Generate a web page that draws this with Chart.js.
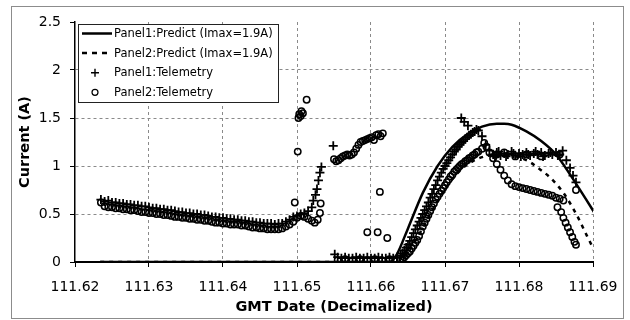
<!DOCTYPE html>
<html>
<head>
<meta charset="utf-8">
<script src="https://cdn.jsdelivr.net/npm/chart.js@4.4.1/dist/chart.umd.min.js"></script>
<style>
  html, body { margin: 0; padding: 0; background: #fff; }
  #wrap { width: 630px; height: 320px; }
</style>
</head>
<body>
<div id="wrap"><canvas id="chart" width="630" height="320"></canvas></div>
<script>
// axis ticks
const xTicks = [111.62, 111.63, 111.64, 111.65, 111.66, 111.67, 111.68, 111.69]
const yTicks = [0, 0.5, 1, 1.5, 2, 2.5]

const seriesNames = [
  'Panel1:Predict (Imax=1.9A)',
  'Panel2:Predict (Imax=1.9A)',
  'Panel1:Telemetry',
  'Panel2:Telemetry'
]

// predictions
const p1PredTime = [111.6234, 111.6626, 111.6630, 111.6635, 111.6650, 111.6670, 111.6690, 111.6710, 111.6730,
  111.6750, 111.6770, 111.6780, 111.6790, 111.6810, 111.6830, 111.6850, 111.6870, 111.6890, 111.6907]
const p1PredAmps = [0, 0, 0.03, 0.08, 0.35, 0.72, 1.00, 1.20, 1.33,
  1.41, 1.44, 1.44, 1.43, 1.36, 1.26, 1.12, 0.90, 0.66, 0.45]

const p2PredTime = [111.6234, 111.6636, 111.6645, 111.6660, 111.6680, 111.6700, 111.6720, 111.6740, 111.6760,
  111.6780, 111.6800, 111.6815, 111.6824, 111.6842, 111.6860, 111.6878, 111.6892, 111.6905]
const p2PredAmps = [0, 0, 0.06, 0.22, 0.50, 0.76, 0.95, 1.06, 1.11,
  1.12, 1.09, 1.04, 0.99, 0.88, 0.72, 0.49, 0.27, 0.07]

// telemetry, early part: both panels sampled at the same times
const bandTime = [111.6235, 111.6240, 111.6245, 111.6250, 111.6255, 111.6260, 111.6265, 111.6270, 111.6275, 111.6280,
  111.6285, 111.6290, 111.6295, 111.6300, 111.6305, 111.6310, 111.6315, 111.6320, 111.6325, 111.6330,
  111.6335, 111.6340, 111.6345, 111.6350, 111.6355, 111.6360, 111.6365, 111.6370, 111.6375, 111.6380,
  111.6385, 111.6390, 111.6395, 111.6400, 111.6405, 111.6410, 111.6415, 111.6420, 111.6425, 111.6430,
  111.6435, 111.6440, 111.6445, 111.6450, 111.6455, 111.6460, 111.6465, 111.6470, 111.6475, 111.6480,
  111.6485, 111.6490, 111.6495]
const p1Band = [0.65, 0.63, 0.64, 0.62, 0.62, 0.61, 0.61, 0.60, 0.60, 0.59,
  0.59, 0.58, 0.58, 0.57, 0.56, 0.56, 0.55, 0.55, 0.54, 0.54,
  0.53, 0.52, 0.52, 0.51, 0.51, 0.50, 0.50, 0.49, 0.49, 0.48,
  0.47, 0.47, 0.46, 0.46, 0.45, 0.45, 0.44, 0.44, 0.43, 0.43,
  0.42, 0.42, 0.41, 0.41, 0.40, 0.40, 0.40, 0.39, 0.40, 0.40,
  0.42, 0.44, 0.47]
const p2Band = [0.62, 0.58, 0.57, 0.57, 0.56, 0.56, 0.55, 0.55, 0.54, 0.54,
  0.53, 0.52, 0.52, 0.51, 0.51, 0.50, 0.50, 0.49, 0.49, 0.48,
  0.47, 0.47, 0.46, 0.46, 0.45, 0.45, 0.44, 0.44, 0.43, 0.43,
  0.42, 0.41, 0.41, 0.40, 0.40, 0.39, 0.39, 0.39, 0.38, 0.38,
  0.37, 0.36, 0.36, 0.35, 0.35, 0.34, 0.34, 0.34, 0.34, 0.35,
  0.37, 0.39, 0.42]

// telemetry, later part
const p1Time = [111.6500, 111.6505, 111.6510, 111.6515, 111.6520, 111.6522, 111.6525, 111.6527, 111.6529, 111.6531,
  111.6533, 111.6549,
  111.6551, 111.6555, 111.6560, 111.6565, 111.6570, 111.6575, 111.6580, 111.6585, 111.6590, 111.6595,
  111.6600, 111.6605, 111.6610, 111.6615, 111.6620, 111.6625, 111.6630, 111.6635,
  111.6640, 111.6645, 111.6650, 111.6655, 111.6660, 111.6665, 111.6670, 111.6675, 111.6680, 111.6685,
  111.6690, 111.6695, 111.6700, 111.6705, 111.6710, 111.6715, 111.6720, 111.6722, 111.6725, 111.6726,
  111.6730, 111.6731, 111.6735, 111.6740, 111.6745, 111.6750, 111.6755, 111.6760, 111.6765, 111.6770,
  111.6775, 111.6780, 111.6785, 111.6790, 111.6795, 111.6800, 111.6805, 111.6810, 111.6815, 111.6820,
  111.6825, 111.6830, 111.6835, 111.6840, 111.6845, 111.6850, 111.6855, 111.6859, 111.6864, 111.6869,
  111.6873, 111.6877,
  111.66425, 111.66475, 111.66525, 111.66575, 111.66625, 111.66675, 111.66725, 111.66775, 111.66825, 111.66875,
  111.66925, 111.66975, 111.67025, 111.67075, 111.67125, 111.67175, 111.67225, 111.67275, 111.67325, 111.67375,
  111.67425,
  111.67675, 111.67725, 111.67825, 111.67925, 111.68025, 111.68125, 111.68225, 111.68325, 111.68425, 111.68525]
const p1Amps = [0.48, 0.50, 0.51, 0.53, 0.57, 0.64, 0.70, 0.76, 0.85, 0.93,
  0.99, 1.21,
  0.08, 0.05, 0.04, 0.05, 0.04, 0.04, 0.05, 0.04, 0.04, 0.05,
  0.04, 0.04, 0.05, 0.04, 0.04, 0.05, 0.04, 0.05,
  0.07, 0.12, 0.18, 0.26, 0.34, 0.42, 0.50, 0.58, 0.67, 0.76,
  0.85, 0.93, 1.00, 1.06, 1.12, 1.17, 1.22, 1.50, 1.26, 1.46,
  1.30, 1.42, 1.33, 1.36, 1.37, 1.31, 1.22, 1.16, 1.12, 1.14,
  1.11, 1.13, 1.12, 1.15, 1.11, 1.13, 1.12, 1.14, 1.11, 1.13,
  1.12, 1.14, 1.11, 1.13, 1.12, 1.14, 1.12, 1.16, 1.06, 0.98,
  0.90, 0.83,
  0.09, 0.15, 0.22, 0.30, 0.38, 0.46, 0.54, 0.62, 0.71, 0.80,
  0.89, 0.97, 1.03, 1.09, 1.15, 1.20, 1.24, 1.28, 1.32, 1.35,
  1.38,
  1.10, 1.15, 1.10, 1.13, 1.10, 1.12, 1.15, 1.10, 1.14, 1.11]

const p2Time = [111.6497, 111.6500, 111.6501, 111.6502, 111.6503, 111.6505, 111.6506, 111.6508, 111.6513,
  111.6505, 111.6510, 111.6515, 111.6520, 111.6524, 111.6528, 111.6531, 111.6532,
  111.6550, 111.6553, 111.6556, 111.6559, 111.6562, 111.6565, 111.6568, 111.6571, 111.6574, 111.6577,
  111.6580, 111.6583, 111.6586, 111.6589, 111.6592, 111.6595, 111.6598, 111.6601, 111.6604, 111.6607,
  111.6610, 111.6613, 111.6616,
  111.6595, 111.6609, 111.6612, 111.6622,
  111.6555, 111.6565, 111.6575, 111.6585, 111.6595, 111.6605, 111.6615, 111.6625, 111.6635,
  111.6640, 111.6645, 111.6650, 111.6655, 111.6660, 111.6665, 111.6670, 111.6675, 111.6680, 111.6685,
  111.6690, 111.6695, 111.6700, 111.6705, 111.6710, 111.6715, 111.6720, 111.6725, 111.6730, 111.6735,
  111.6740, 111.6745, 111.6750, 111.6753, 111.6756, 111.6760, 111.6765, 111.6770, 111.6775, 111.6780,
  111.6785, 111.6790, 111.6795, 111.6800, 111.6805, 111.6810, 111.6815, 111.6820, 111.6825, 111.6830,
  111.6835, 111.6840, 111.6845, 111.6850, 111.6855, 111.6860,
  111.6852, 111.6857, 111.6860, 111.6863, 111.6866, 111.6869, 111.6872, 111.6875, 111.6877,
  111.6770, 111.6780, 111.6795, 111.6810, 111.6830, 111.6855, 111.6877,
  111.66425, 111.66475, 111.66525, 111.66575, 111.66625, 111.66675, 111.66725, 111.66775, 111.66825, 111.66875,
  111.66925, 111.66975, 111.67025, 111.67075, 111.67125, 111.67175, 111.67225, 111.67275, 111.67325, 111.67375,
  111.67425]
const p2Amps = [0.62, 0.46, 1.15, 1.50, 1.54, 1.52, 1.57, 1.55, 1.69,
  0.48, 0.47, 0.45, 0.43, 0.41, 0.44, 0.51, 0.61,
  1.07, 1.05, 1.06, 1.08, 1.10, 1.11, 1.12, 1.11, 1.12, 1.14,
  1.18, 1.22, 1.25, 1.26, 1.27, 1.28, 1.29, 1.30, 1.27, 1.32,
  1.33, 1.31, 1.34,
  0.31, 0.31, 0.73, 0.25,
  0.02, 0.03, 0.02, 0.03, 0.02, 0.03, 0.02, 0.03, 0.02,
  0.02, 0.05, 0.09, 0.14, 0.20, 0.27, 0.37, 0.45, 0.53, 0.61,
  0.68, 0.74, 0.80, 0.86, 0.91, 0.96, 1.00, 1.03, 1.06, 1.09,
  1.12, 1.15, 1.18, 1.24, 1.20, 1.14, 1.08, 1.02, 0.96, 0.90,
  0.85, 0.81, 0.79, 0.78, 0.77, 0.76, 0.75, 0.74, 0.73, 0.72,
  0.71, 0.70, 0.69, 0.67, 0.66, 0.64,
  0.57, 0.52, 0.46, 0.41, 0.36, 0.31, 0.26, 0.21, 0.18,
  1.12, 1.14, 1.10, 1.12, 1.10, 1.12, 0.75,
  0.03, 0.07, 0.11, 0.17, 0.23, 0.32, 0.41, 0.49, 0.57, 0.65,
  0.71, 0.77, 0.83, 0.89, 0.94, 0.98, 1.02, 1.05, 1.08, 1.11,
  1.14]

const toPoints = (xs, ys) => xs.map((x, i) => ({ x: x, y: ys[i] }))

// white page + grey outer frame like the pasted excel chart
const frame = {
  id: 'frame',
  beforeDraw(chart) {
    const ctx = chart.ctx
    ctx.save()
    ctx.fillStyle = '#fff'
    ctx.fillRect(0, 0, chart.width, chart.height)
    ctx.strokeStyle = '#8c8c8c'
    ctx.lineWidth = 1
    ctx.strokeRect(11.5, 6.5, 612, 312)
    ctx.restore()
  }
}

// legend box inside the plot, top left
const legendBox = {
  id: 'legendBox',
  afterDatasetsDraw(chart) {
    const ctx = chart.ctx
    const x0 = chart.chartArea.left + 3
    const y0 = chart.chartArea.top + 2
    ctx.save()
    ctx.fillStyle = '#fff'
    ctx.fillRect(x0, y0, 200, 78)
    ctx.strokeStyle = '#222'
    ctx.lineWidth = 1
    ctx.strokeRect(x0 + 0.5, y0 + 0.5, 200, 78)
    ctx.font = '11.5px "DejaVu Sans"'
    ctx.textBaseline = 'middle'
    chart.data.datasets.forEach((ds, i) => {
      const y = y0 + 9.5 + i * 19.6
      ctx.strokeStyle = '#000'
      ctx.fillStyle = '#000'
      if (ds.showLine) {
        ctx.lineWidth = 2.5
        ctx.setLineDash(ds.borderDash ? [5, 5] : [])
        ctx.beginPath()
        ctx.moveTo(x0 + 4, y)
        ctx.lineTo(x0 + 34, y)
        ctx.stroke()
        ctx.setLineDash([])
      } else if (ds.pointStyle === 'cross') {
        ctx.lineWidth = 1.4
        ctx.beginPath()
        ctx.moveTo(x0 + 17, y - 4); ctx.lineTo(x0 + 17, y + 4)
        ctx.moveTo(x0 + 13, y); ctx.lineTo(x0 + 21, y)
        ctx.stroke()
      } else {
        ctx.lineWidth = 1.2
        ctx.beginPath()
        ctx.arc(x0 + 17, y, 3, 0, Math.PI * 2)
        ctx.stroke()
      }
      ctx.fillText(ds.label, x0 + 36, y + 0.5)
    })
    ctx.restore()
  }
}

const gridColor = (skip) => (c) => (c.tick && skip.includes(c.tick.value)) ? 'rgba(0,0,0,0)' : '#8a8a8a'

new Chart(document.getElementById('chart'), {
  type: 'scatter',
  data: {
    datasets: [
      {
        label: seriesNames[0],
        data: toPoints(p1PredTime, p1PredAmps),
        showLine: true,
        borderColor: '#000',
        borderWidth: 2.5,
        pointRadius: 0,
        cubicInterpolationMode: 'monotone'
      },
      {
        label: seriesNames[1],
        data: toPoints(p2PredTime, p2PredAmps),
        showLine: true,
        borderColor: '#000',
        borderWidth: 2.5,
        borderDash: [4, 5],
        pointRadius: 0,
        cubicInterpolationMode: 'monotone'
      },
      {
        label: seriesNames[2],
        data: toPoints(bandTime, p1Band).concat(toPoints(p1Time, p1Amps)),
        pointStyle: 'cross',
        pointRadius: 4.5,
        pointBorderWidth: 1.8,
        borderColor: '#000',
        backgroundColor: '#000'
      },
      {
        label: seriesNames[3],
        data: toPoints(bandTime, p2Band).concat(toPoints(p2Time, p2Amps)),
        pointStyle: 'circle',
        pointRadius: 3.2,
        pointBorderWidth: 1.5,
        borderColor: '#000',
        backgroundColor: 'rgba(0,0,0,0)'
      }
    ]
  },
  options: {
    responsive: false,
    animation: false,
    devicePixelRatio: 1,
    layout: { padding: { left: 12, right: 37, top: 22, bottom: 4 } },
    plugins: { legend: { display: false }, tooltip: { enabled: false } },
    scales: {
      x: {
        type: 'linear',
        min: 111.62,
        max: 111.69,
        afterBuildTicks: (s) => { s.ticks = xTicks.map(v => ({ value: v })) },
        afterFit: (s) => { s.height = 54 },
        ticks: {
          callback: (v) => v.toFixed(2),
          font: { family: 'DejaVu Sans', size: 14 },
          color: '#000',
          padding: 12,
          maxRotation: 0,
          autoSkip: false
        },
        grid: { color: gridColor([111.62]), lineWidth: 1, tickColor: '#000', tickLength: 5 },
        border: { color: '#000', width: 2, dash: [3, 3] },
        title: {
          display: true,
          text: 'GMT Date (Decimalized)',
          font: { family: 'DejaVu Sans', size: 14.5, weight: 'bold' },
          color: '#000',
          padding: { top: 0, bottom: 0 }
        }
      },
      y: {
        min: 0,
        max: 2.5,
        afterBuildTicks: (s) => { s.ticks = yTicks.map(v => ({ value: v })) },
        afterFit: (s) => { s.width = 63 },
        ticks: {
          callback: (v) => String(v),
          font: { family: 'DejaVu Sans', size: 14 },
          color: '#000',
          padding: 9
        },
        grid: { color: gridColor([0, 2.5]), lineWidth: 1, tickColor: '#000', tickLength: 5 },
        border: { color: '#000', width: 1.5, dash: [3, 3] },
        title: {
          display: true,
          text: 'Current (A)',
          font: { family: 'DejaVu Sans', size: 14.5, weight: 'bold' },
          color: '#000',
          padding: { top: 5, bottom: 0 }
        }
      }
    }
  },
  plugins: [frame, legendBox]
})
</script>
</body>
</html>
